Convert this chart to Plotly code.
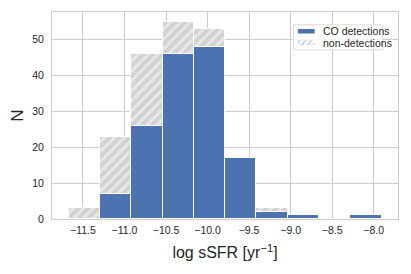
import plotly.graph_objects as go

# Histogram bins (log sSFR)
bin_left_edges = [-11.672, -11.295, -10.918, -10.542, -10.165, -9.788, -9.411, -9.035, -8.658, -8.281]
bin_width = 0.3768
co_detections = [0, 7, 26, 46, 48, 17, 2, 1, 0, 1]
non_detections = [3, 16, 20, 9, 5, 0, 1, 0, 0, 0]
series_names = ["CO detections", "non-detections"]

x_tick_vals = [-11.5, -11.0, -10.5, -10.0, -9.5, -9.0, -8.5, -8.0]
x_tick_text = ["\u221211.5", "\u221211.0", "\u221210.5", "\u221210.0", "\u22129.5", "\u22129.0", "\u22128.5", "\u22128.0"]
y_tick_vals = [0, 10, 20, 30, 40, 50]

centers = [e + bin_width / 2 for e in bin_left_edges]

W, H = 411, 274
font_family = "Liberation Sans, Arial, sans-serif"
txt = "#262626"
grid = "#cccccc"
blue = "#4C72B0"
hatch_bg = "#d2d2d2"

fig = go.Figure()
fig.add_trace(go.Bar(
    x=centers, y=co_detections, width=[bin_width] * len(centers),
    name=series_names[0], showlegend=False,
    marker=dict(color=blue, line=dict(color="white", width=1)),
))
fig.add_trace(go.Bar(
    x=centers, y=non_detections, width=[bin_width] * len(centers),
    name=series_names[1], showlegend=False,
    marker=dict(color=hatch_bg, line=dict(color="white", width=1),
                pattern=dict(shape="/", fgcolor="white", bgcolor=hatch_bg, size=7, solidity=0.4)),
))

# ---- custom legend (pixel positions converted to paper fractions)
def px(x):
    return x / W

def py(y):
    return 1 - y / H

shapes = []
shapes.append(dict(type="rect", xref="paper", yref="paper",
                   x0=px(287), x1=px(393), y0=py(50), y1=py(17),
                   line=dict(color="#d9d9d9", width=1), fillcolor="rgba(255,255,255,0.8)", layer="above"))
shapes.append(dict(type="rect", xref="paper", yref="paper",
                   x0=px(292), x1=px(312), y0=py(28.5), y1=py(22.5),
                   line=dict(width=0), fillcolor=blue, layer="above"))
shapes.append(dict(type="rect", xref="paper", yref="paper",
                   x0=px(292), x1=px(312), y0=py(43.5), y1=py(37.5),
                   line=dict(width=0), fillcolor=hatch_bg, layer="above"))
for sx in [295.5, 302.5, 309.5]:
    shapes.append(dict(type="line", xref="paper", yref="paper",
                       x0=px(sx - 2.5), x1=px(sx + 2.5), y0=py(43.5), y1=py(37.5),
                       line=dict(color="white", width=2.5), layer="above"))

annotations = [
    dict(text=series_names[0], xref="paper", yref="paper", x=px(320), y=py(25.5),
         xanchor="left", yanchor="middle", showarrow=False, font=dict(size=10.5, color=txt)),
    dict(text=series_names[1], xref="paper", yref="paper", x=px(320), y=py(40.5),
         xanchor="left", yanchor="middle", showarrow=False, font=dict(size=10.5, color=txt)),
]

fig.update_layout(
    width=W, height=H,
    barmode="stack", bargap=0,
    paper_bgcolor="white", plot_bgcolor="white",
    margin=dict(l=52, r=13, t=12, b=55),
    font=dict(family=font_family, color=txt, size=11),
    showlegend=False,
    shapes=shapes,
    annotations=annotations,
    xaxis=dict(
        range=[-11.873, -7.707], automargin=False,
        tickvals=x_tick_vals, ticktext=x_tick_text,
        showgrid=True, gridcolor=grid, gridwidth=1,
        showline=True, linecolor=grid, linewidth=1, mirror=True,
        ticks="outside", ticklen=1, tickcolor="white",
        zeroline=False,
        tickfont=dict(size=10.5, color=txt),
        title=dict(text="log sSFR [yr<sup>\u22121</sup>]", font=dict(size=16, color=txt), standoff=12),
    ),
    yaxis=dict(
        range=[0, 57.75], automargin=False,
        tickvals=y_tick_vals,
        showgrid=True, gridcolor=grid, gridwidth=1,
        showline=True, linecolor=grid, linewidth=1, mirror=True,
        ticks="outside", ticklen=5, tickcolor="white",
        zeroline=False,
        tickfont=dict(size=10.5, color=txt),
        title=dict(text="N", font=dict(size=17, color=txt), standoff=4),
    ),
)

fig.write_html("out.html", config={"displayModeBar": False},
               post_script="document.body.style.margin='0';")
